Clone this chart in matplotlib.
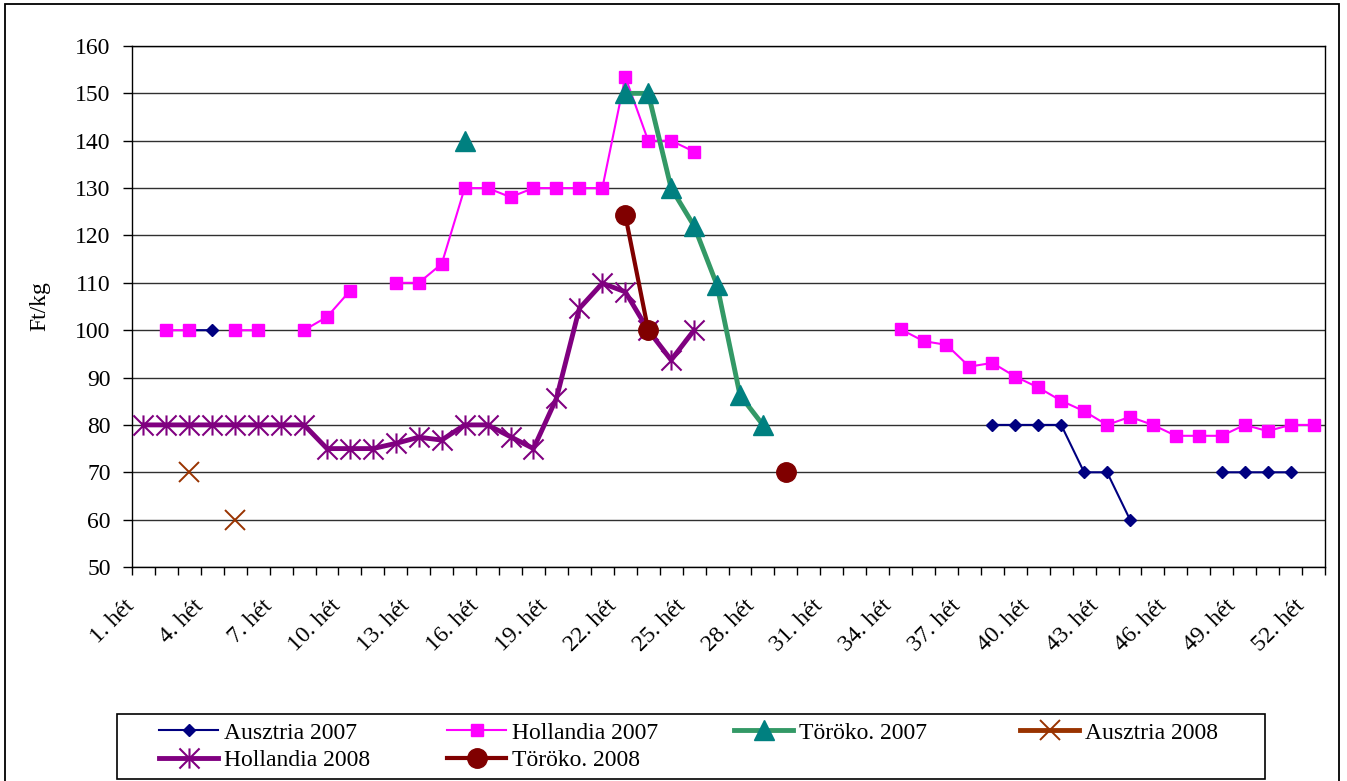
import numpy as np
import matplotlib
matplotlib.use("Agg")
import matplotlib.pyplot as plt
from matplotlib.path import Path
from matplotlib.patches import Rectangle
import matplotlib.transforms as mtransforms

plt.rcParams['font.family'] = ['Liberation Serif', 'DejaVu Serif']

# ---------------- data ----------------
weeks = list(range(1, 53))
week_labels = [f"{w}. hét" for w in weeks]
label_weeks = list(range(1, 53, 3))
y_ticks = list(range(50, 161, 10))

aus07_weeks = [3, 4, 38, 39, 40, 41, 42, 43, 44, 48, 49, 50, 51]
aus07_vals = [100, 100, 80, 80, 80, 80, 70, 70, 60, 70, 70, 70, 70]

hol07_weeks = [2, 3, 5, 6, 8, 9, 10, 12, 13, 14, 15, 16, 17, 18, 19, 20, 21, 22, 23, 24, 25,
               34, 35, 36, 37, 38, 39, 40, 41, 42, 43, 44, 45, 46, 47, 48, 49, 50, 51, 52]
hol07_vals = [100, 100, 100, 100, 100, 102.8, 108.3, 110, 110, 114, 130, 130, 128.1, 130, 130,
              130, 130, 153.5, 140, 140, 137.7,
              100.2, 97.7, 96.9, 92.3, 93.1, 90.2, 87.9, 85.1, 82.9, 80, 81.7, 80, 77.7, 77.7,
              77.7, 80, 78.7, 80, 80]

tor07_weeks = [15, 22, 23, 24, 25, 26, 27, 28]
tor07_vals = [140, 150, 150, 130, 122, 109.5, 86.3, 80]

aus08_weeks = [3, 5]
aus08_vals = [70, 60]

hol08_weeks = list(range(1, 26))
hol08_vals = [80, 80, 80, 80, 80, 80, 80, 80, 75, 75, 75, 76.1, 77.4, 76.8, 80, 80, 77.5, 75,
              85.6, 104.6, 109.9, 108.1, 100, 93.7, 100]

tor08_weeks = [22, 23, 29]
tor08_vals = [124.3, 100, 70]


def full(wk, vals):
    arr = np.full(len(weeks), np.nan)
    arr[np.array(wk) - 1] = vals
    return arr


# ---------------- figure ----------------
W, H = 1347, 781
FS = 17
fig = plt.figure(figsize=(W / 100, H / 100), dpi=100)
ax = fig.add_axes([132 / W, 1 - 567 / H, (1325 - 132) / W, (567 - 46) / H])

x = np.array(weeks)

star_path = Path([(0, -1), (0, 1), (-1, -1), (1, 1), (-1, 1), (1, -1)],
                 [Path.MOVETO, Path.LINETO] * 3)

l1, = ax.plot(x, full(aus07_weeks, aus07_vals), color='#000080', lw=1.5,
              marker='D', ms=6.5, mec='#000080', mfc='#000080', label='Ausztria 2007', zorder=3)
l2, = ax.plot(x, full(hol07_weeks, hol07_vals), color='#FF00FF', lw=1.5,
              marker='s', ms=8.5, mec='#FF00FF', mfc='#FF00FF', label='Hollandia 2007', zorder=4)
l3, = ax.plot(x, full(tor07_weeks, tor07_vals), color='#339966', lw=3.5,
              marker='^', ms=15, mec='#008080', mfc='#008080', mew=1, label='Töröko. 2007', zorder=5)
l4, = ax.plot(x, full(aus08_weeks, aus08_vals), color='#993300', lw=3.5,
              marker='x', ms=15, mec='#993300', mew=1.4, label='Ausztria 2008', zorder=6)
l5, = ax.plot(x, full(hol08_weeks, hol08_vals), color='#800080', lw=3.5,
              marker=star_path, ms=14.5, mec='#800080', mfc='none', mew=1.5,
              label='Hollandia 2008', zorder=7)
l6, = ax.plot(x, full(tor08_weeks, tor08_vals), color='#800000', lw=3,
              marker='o', ms=14, mec='#800000', mfc='#800000', label='Töröko. 2008', zorder=8)

# axes
ax.set_xlim(0.5, 52.5)
ax.set_ylim(50, 160)
ax.set_yticks(y_ticks)
ax.set_yticklabels([str(v) for v in y_ticks])
ax.grid(axis='y', color='#303030', lw=1)
ax.set_axisbelow(True)
for sp in ax.spines.values():
    sp.set_color('black')
    sp.set_linewidth(1)

ax.tick_params(axis='y', which='major', direction='out', length=6.3, width=1, pad=9,
               labelsize=FS, colors='black')

ax.set_xticks(label_weeks)
ax.set_xticklabels([week_labels[w - 1] for w in label_weeks])
ax.set_xticks(np.arange(0.5, 53.0, 1.0), minor=True)
ax.tick_params(axis='x', which='major', length=0, pad=26, labelsize=FS)
ax.tick_params(axis='x', which='minor', direction='out', length=5.5, width=1)
offset = mtransforms.ScaledTranslation(-12 / 100, 0, fig.dpi_scale_trans)
for lab in ax.get_xticklabels():
    lab.set_rotation(45)
    lab.set_ha('right')
    lab.set_va('center')
    lab.set_rotation_mode('anchor')
    lab.set_transform(lab.get_transform() + offset)

ax.set_ylabel('Ft/kg', fontsize=FS)
ax.yaxis.set_label_coords((50 - 132) / (1325 - 132), 0.5)

# legend frame
fig.patches.append(Rectangle((117 / W, 1 - 779 / H), (1265 - 117) / W, (779 - 714) / H,
                             transform=fig.transFigure, fill=False, ec='black', lw=1.2))
# outer chart frame
fig.patches.append(Rectangle((5 / W, -0.02), (1339 - 5) / W, (H - 4) / H + 0.02,
                             transform=fig.transFigure, fill=False, ec='black', lw=1.3,
                             clip_on=False))

cols = [([l1, l5], 159), ([l2, l6], 447), ([l3], 734), ([l4], 1020)]
for handles, xpix in cols:
    fig.legend(handles=handles, labels=[h.get_label() for h in handles],
               loc='upper left', bbox_to_anchor=(xpix / W, 1 - 722 / H),
               frameon=False, borderpad=0, borderaxespad=0, fontsize=FS,
               handlelength=2.5, handletextpad=0.25, labelspacing=0.26, numpoints=1,
               markerscale=1.0)

fig.savefig('out.png', dpi=100)
